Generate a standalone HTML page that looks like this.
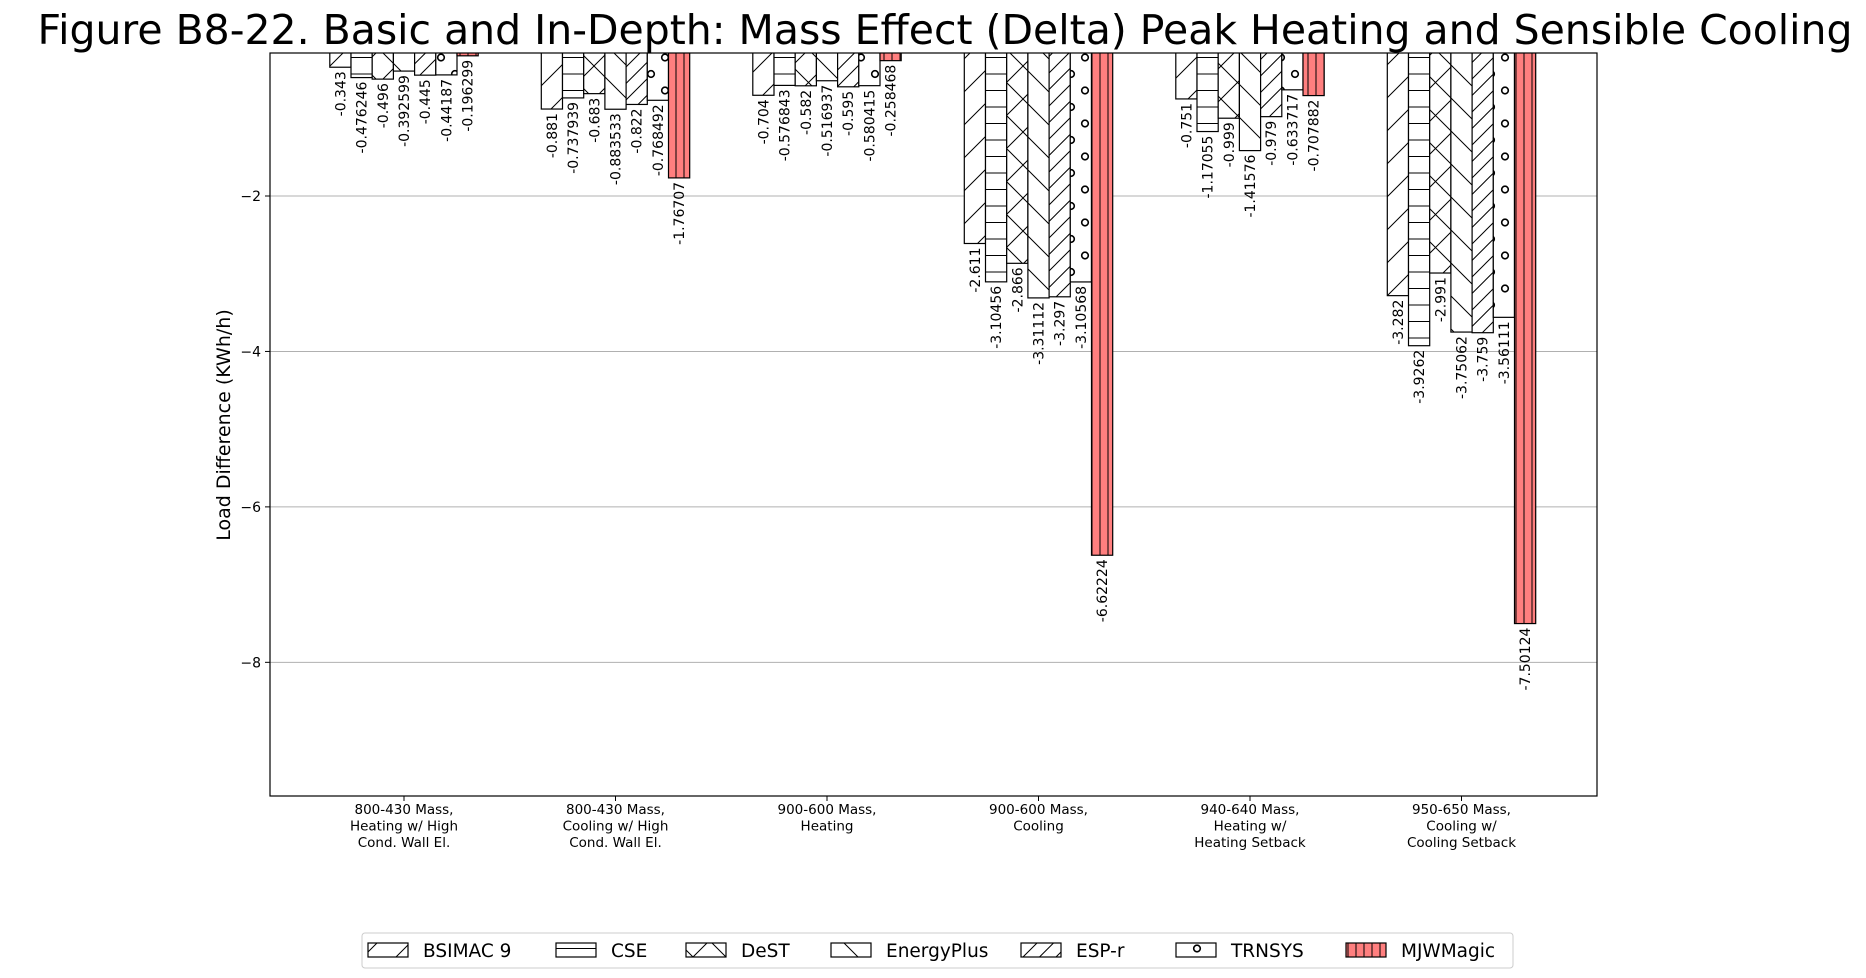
<!DOCTYPE html>
<html><head><meta charset="utf-8"><style>
body{margin:0;background:#fff;}
svg{display:block;font-family:"DejaVu Sans","Liberation Sans",sans-serif;}
</style></head><body>
<svg id="chart" width="1866" height="978" viewBox="0 0 1866 978" xmlns="http://www.w3.org/2000/svg">
<defs>
<pattern id="p-bsimac" patternUnits="userSpaceOnUse" width="33" height="33"><path d="M0,33 L33,0 M-5,5 L5,-5 M28,38 L38,28" stroke="#000" stroke-width="1"/></pattern>
<pattern id="p-cse" patternUnits="userSpaceOnUse" width="33" height="16.5"><path d="M0,8 L33,8" stroke="#000" stroke-width="1"/></pattern>
<pattern id="p-dest" patternUnits="userSpaceOnUse" width="33" height="33"><path d="M0,33 L33,0 M0,0 L33,33" stroke="#000" stroke-width="1"/></pattern>
<pattern id="p-eplus" patternUnits="userSpaceOnUse" width="33" height="33"><path d="M0,0 L33,33 M-5,28 L5,38 M28,-5 L38,5" stroke="#000" stroke-width="1"/></pattern>
<pattern id="p-espr" patternUnits="userSpaceOnUse" width="16.5" height="16.5"><path d="M0,16.5 L16.5,0 M-3,3 L3,-3 M13.5,19.5 L19.5,13.5" stroke="#000" stroke-width="1"/></pattern>
<pattern id="p-trnsys" patternUnits="userSpaceOnUse" width="28" height="33"><circle cx="7" cy="8" r="3.3" fill="none" stroke="#000" stroke-width="1.6"/><circle cx="21" cy="24.5" r="3.3" fill="none" stroke="#000" stroke-width="1.6"/></pattern>
<pattern id="p-mjw" patternUnits="userSpaceOnUse" width="8" height="10"><rect width="8" height="10" fill="#ff7f7f"/><path d="M4,0 L4,10" stroke="#000" stroke-width="1"/></pattern>
<clipPath id="axclip"><rect x="270" y="53" width="1327" height="743"/></clipPath>
</defs>
<text x="945" y="44" font-size="41" text-anchor="middle" textLength="1815" lengthAdjust="spacingAndGlyphs">Figure B8-22. Basic and In-Depth: Mass Effect (Delta) Peak Heating and Sensible Cooling</text>
<text transform="translate(230,425) rotate(-90)" font-size="19" text-anchor="middle">Load Difference (KWh/h)</text>
<g id="grid"></g>
<g id="bars" clip-path="url(#axclip)"></g>
<g id="labels"></g>
<rect x="270" y="53" width="1327" height="743" fill="none" stroke="#000" stroke-width="1.2"/>
<g id="yticks"></g>
<g id="xticks"></g>
<g id="legend"></g>
</svg>
<script>
const categories = [
 ["800-430 Mass,","Heating w/ High","Cond. Wall El."],
 ["800-430 Mass,","Cooling w/ High","Cond. Wall El."],
 ["900-600 Mass,","Heating"],
 ["900-600 Mass,","Cooling"],
 ["940-640 Mass,","Heating w/","Heating Setback"],
 ["950-650 Mass,","Cooling w/","Cooling Setback"]
];
const seriesNames = ["BSIMAC 9","CSE","DeST","EnergyPlus","ESP-r","TRNSYS","MJWMagic"];
const bsimac = [-0.343,-0.881,-0.704,-2.611,-0.751,-3.282];
const cse = [-0.476246,-0.737939,-0.576843,-3.10456,-1.17055,-3.9262];
const dest = [-0.496,-0.683,-0.582,-2.866,-0.999,-2.991];
const energyplus = [-0.392599,-0.883533,-0.516937,-3.31112,-1.41576,-3.75062];
const espr = [-0.445,-0.822,-0.595,-3.297,-0.979,-3.759];
const trnsys = [-0.44187,-0.768492,-0.580415,-3.10568,-0.633717,-3.56111];
const mjwmagic = [-0.196299,-1.76707,-0.258468,-6.62224,-0.707882,-7.50124];
const yTicks = [-2,-4,-6,-8];
const yTickLabels = ["\u22122","\u22124","\u22126","\u22128"];

(function(){
const series = [bsimac,cse,dest,energyplus,espr,trnsys,mjwmagic];
const fills = ["url(#p-bsimac)","url(#p-cse)","url(#p-dest)","url(#p-eplus)","url(#p-espr)","url(#p-trnsys)","url(#p-mjw)"];
const NS="http://www.w3.org/2000/svg";
const yMin=-9.72, yMax=-0.16, yTop=53, yBottom=796, xLeft=270, xRight=1597;
function yS(v){return yTop+(yMax-v)/(yMax-yMin)*(yBottom-yTop);}
const step=211.5, x0=404, bw=21.2;
function xS(i){return x0+i*step;}
function mk(tag,attrs,parent){const e=document.createElementNS(NS,tag);for(const k in attrs)e.setAttribute(k,attrs[k]);parent.appendChild(e);return e;}
const grid=document.getElementById('grid'), yt=document.getElementById('yticks');
yTicks.forEach((t,i)=>{
 const gl=mk('line',{x1:xLeft,x2:xRight,y1:yS(t),y2:yS(t),stroke:'#b0b0b0','stroke-width':1},grid);
 
 
 mk('line',{x1:xLeft-5,x2:xLeft,y1:yS(t),y2:yS(t),stroke:'#000'},yt);
 const tx=mk('text',{x:xLeft-9,y:yS(t)+5,'font-size':14,'text-anchor':'end'},yt);
 tx.textContent=yTickLabels[i];
 
 
});
const bars=document.getElementById('bars'), labels=document.getElementById('labels'), xt=document.getElementById('xticks');
categories.forEach((cat,ci)=>{
 const cx=xS(ci);
 series.forEach((s,si)=>{
  const v=s[ci], bx=cx+(si-3.5)*bw;
  const y1=yS(0), y2=yS(v);
  if(si<6){mk('rect',{x:bx,y:y1,width:bw,height:y2-y1,fill:'#fff'},bars);}
  const r=mk('rect',{x:bx,y:y1,width:bw,height:y2-y1,fill:fills[si],stroke:'#000','stroke-width':1.2},bars);
  
  
  const t=mk('text',{transform:'translate('+(bx+bw/2+5)+','+(y2+4)+') rotate(-90)','font-size':14,'text-anchor':'end'},labels);
  t.textContent=String(v);
  
  
 });
 mk('line',{x1:cx,x2:cx,y1:yBottom,y2:yBottom+5,stroke:'#000'},xt);
 cat.forEach((ln,li)=>{
  const t=mk('text',{x:cx,y:yBottom+18+li*16.5,'font-size':13.5,'text-anchor':'middle'},xt);
  t.textContent=ln;
  
  
 });
});
const lg=document.getElementById('legend');
const box=mk('rect',{x:362,y:933,width:1151,height:35,rx:3,fill:'#fff',stroke:'#ccc'},lg);


const lx=[368,556,686,831,1021,1176,1346];
seriesNames.forEach((n,i)=>{
 const g=mk('g',{},lg);
 
 
 mk('rect',{x:lx[i],y:943,width:40,height:14,fill:'#fff'},g);
 mk('rect',{x:lx[i],y:943,width:40,height:14,fill:fills[i],stroke:'#000','stroke-width':1.2},g);
 const t=mk('text',{x:lx[i]+55,y:957,'font-size':18.5},g);
 t.textContent=n;
});
})();
</script>
</body></html>
